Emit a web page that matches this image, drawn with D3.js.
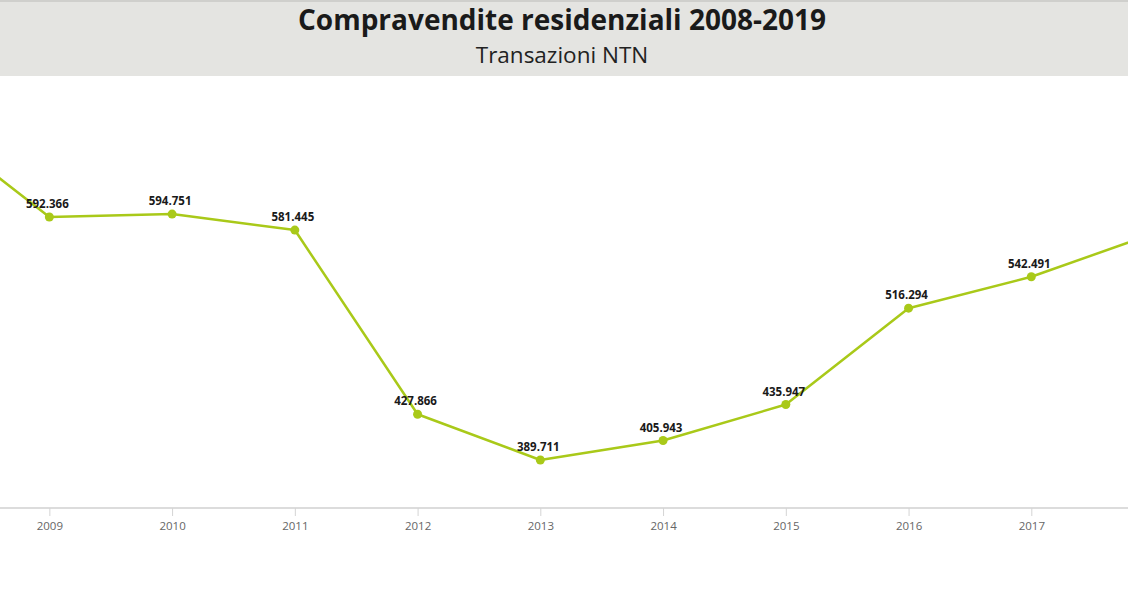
<!DOCTYPE html>
<html>
<head>
<meta charset="utf-8">
<script src="https://cdn.jsdelivr.net/npm/d3@7"></script>
<style>
  html, body { margin: 0; padding: 0; background: #fff; overflow: hidden; }
  svg { display: block; font-family: "Open Sans", "Noto Sans", sans-serif; }
</style>
</head>
<body>
<div id="chart"></div>
<script>
const w = 1128;
const h = 591;

// transazioni NTN (migliaia), 2008 e 2018-2019 fuori dall'inquadratura
const years = [2008, 2009, 2010, 2011, 2012, 2013, 2014, 2015, 2016, 2017, 2018, 2019];
const values = [672.0, 592.366, 594.751, 581.445, 427.866, 389.711, 405.943, 435.947, 516.294, 542.491, 578.647, 603.541];
const labels = ["", "592.366", "594.751", "581.445", "427.866", "389.711", "405.943", "435.947", "516.294", "542.491", "578.647", "603.541"];

const title = "Compravendite residenziali 2008-2019";
const subtitle = "Transazioni NTN";

const palette = { green: "#a9c919", band: "#e4e4e1", text: "#1a1a1a", axis: "#dcdcdc", tick: "#666" };

const data = years.map((y, i) => ({ year: y, value: values[i], label: labels[i] }));

const svg = d3.select("#chart").append("svg")
  .attr("width", w)
  .attr("height", h);

// header
svg.append("rect").attr("x", 0).attr("y", 0).attr("width", w).attr("height", 76).attr("fill", palette.band);
svg.append("rect").attr("x", 0).attr("y", 0).attr("width", w).attr("height", 2).attr("fill", "#cfcfcc");

svg.append("text")
  .attr("x", 562).attr("y", 30)
  .attr("text-anchor", "middle")
  .attr("font-size", 28).attr("font-weight", 700)
  .attr("fill", palette.text)
  .text(title);

svg.append("text")
  .attr("x", 562).attr("y", 63)
  .attr("text-anchor", "middle")
  .attr("font-size", 22.5)
  .attr("fill", "#222")
  .text(subtitle);

// scales (the chart is wider than the window, so 2008 and 2018-19 fall outside)
const x = d3.scalePoint().domain(years).range([-73.4, 1276.8]);
const y = d3.scaleLinear().domain([350, 700]).range([507.6, 87.9]);
const inView = d => x(d) > 10 && x(d) < w - 10;

// x axis
const axisY = 508;
svg.append("line")
  .attr("x1", 0).attr("x2", w)
  .attr("y1", axisY).attr("y2", axisY)
  .attr("stroke", palette.axis).attr("stroke-width", 2);

const xAxis = svg.append("g")
  .attr("transform", `translate(0,${axisY})`)
  .call(d3.axisBottom(x).tickValues(years.filter(inView)).tickSize(8).tickPadding(6).tickFormat(d3.format("d")));
xAxis.select(".domain").remove();
xAxis.selectAll(".tick line").attr("stroke", "#d4d4d4");
xAxis.selectAll(".tick text")
  .attr("fill", palette.tick)
  .attr("font-size", 11.5)
  .attr("font-family", "\"Open Sans\", sans-serif");

// line
const line = d3.line().x(d => x(d.year)).y(d => y(d.value));
svg.append("path")
  .datum(data)
  .attr("d", line)
  .attr("fill", "none")
  .attr("stroke", palette.green)
  .attr("stroke-width", 2.5)
  .attr("stroke-linejoin", "round");

svg.selectAll("circle.pt")
  .data(data)
  .enter().append("circle")
  .attr("class", "pt")
  .attr("cx", d => x(d.year))
  .attr("cy", d => y(d.value))
  .attr("r", 4.5)
  .attr("fill", palette.green);

svg.selectAll("text.val")
  .data(data.filter(d => inView(d.year)))
  .enter().append("text")
  .attr("class", "val")
  .attr("x", d => x(d.year) - 2)
  .attr("y", d => y(d.value) - 9)
  .attr("text-anchor", "middle")
  .attr("font-size", 11.5)
  .attr("font-weight", 700)
  .attr("fill", palette.text)
  .text(d => d.label);
</script>
</body>
</html>
